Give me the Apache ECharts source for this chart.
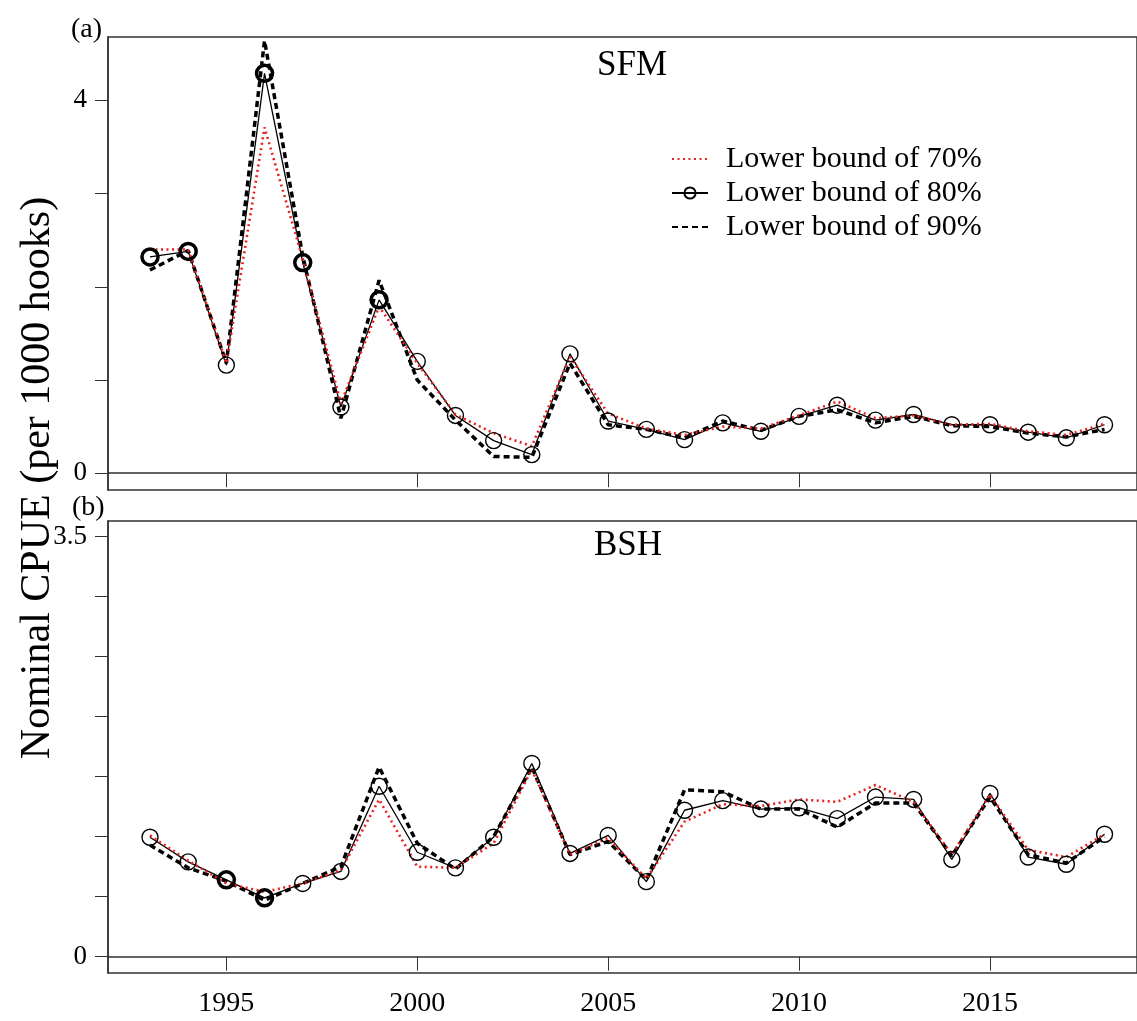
<!DOCTYPE html>
<html>
<head>
<meta charset="utf-8">
<script src="https://cdn.jsdelivr.net/npm/echarts@6/dist/echarts.min.js"></script>
<style>
  html, body { margin: 0; padding: 0; background: #fff; }
  #chart { width: 1137px; height: 1021px; }
</style>
</head>
<body>
<div id="chart"></div>
<script>
var years = [1993, 1994, 1995, 1996, 1997, 1998, 1999, 2000, 2001, 2002, 2003, 2004, 2005,
             2006, 2007, 2008, 2009, 2010, 2011, 2012, 2013, 2014, 2015, 2016, 2017, 2018];

// (a) SFM
var sfm70 = [2.40, 2.40, 1.18, 3.71, 2.30, 0.75, 1.79, 1.18, 0.63, 0.43, 0.29, 1.25, 0.64,
             0.48, 0.41, 0.50, 0.48, 0.62, 0.77, 0.59, 0.62, 0.52, 0.53, 0.45, 0.41, 0.53];
var sfm80 = [2.32, 2.38, 1.16, 4.29, 2.26, 0.71, 1.86, 1.20, 0.62, 0.35, 0.20, 1.28, 0.56,
             0.47, 0.36, 0.54, 0.45, 0.61, 0.73, 0.57, 0.63, 0.52, 0.52, 0.44, 0.38, 0.52];
var sfm90 = [2.18, 2.39, 1.18, 4.64, 2.33, 0.59, 2.07, 1.00, 0.57, 0.18, 0.17, 1.18, 0.52,
             0.47, 0.38, 0.56, 0.46, 0.61, 0.68, 0.54, 0.61, 0.51, 0.50, 0.43, 0.39, 0.47];

// (b) BSH
var bsh70 = [1.01, 0.80, 0.61, 0.54, 0.61, 0.72, 1.31, 0.75, 0.74, 0.945, 1.56, 0.85, 0.99,
             0.65, 1.125, 1.27, 1.255, 1.31, 1.29, 1.43, 1.29, 0.85, 1.35, 0.89, 0.83, 1.02];
var bsh80 = [0.995, 0.79, 0.64, 0.49, 0.61, 0.71, 1.42, 0.87, 0.74, 0.995, 1.61, 0.86, 1.01,
             0.625, 1.22, 1.30, 1.23, 1.24, 1.15, 1.33, 1.31, 0.81, 1.36, 0.83, 0.77, 1.02];
var bsh90 = [0.93, 0.74, 0.63, 0.47, 0.61, 0.75, 1.58, 0.945, 0.73, 1.00, 1.58, 0.85, 0.96,
             0.64, 1.39, 1.375, 1.23, 1.23, 1.08, 1.28, 1.28, 0.84, 1.33, 0.85, 0.78, 1.00];

// years whose circle is drawn heavier in the original
var boldTop = [1993, 1994, 1996, 1997, 1999];
var boldBottom = [1995, 1996];

var xTicks = [1995, 2000, 2005, 2010, 2015];
var topTicks = [0, 1, 2, 3, 4];
var topLabels = [0, 4];
var bottomTicks = [0, 0.5, 1, 1.5, 2, 2.5, 3, 3.5];
var bottomLabels = [0, 3.5];

var names = ['Lower bound of 70%', 'Lower bound of 80%', 'Lower bound of 90%'];
var serif = 'Liberation Serif';

function pairs(vals) {
	var out = [];
	for (var i = 0; i < years.length; i++) {
		out.push([years[i], vals[i]]);
	}
	return out;
}

function circles(vals, bold) {
	var out = [];
	for (var i = 0; i < years.length; i++) {
		var heavy = bold.indexOf(years[i]) >= 0;
		out.push({
			value: [years[i], vals[i]],
			itemStyle: { borderWidth: heavy ? 3.5 : 1.4 }
		});
	}
	return out;
}

function makeX(idx, showLabels) {
	return {
		type: 'value', gridIndex: idx, min: 1991.9, max: 2018.85,
		splitLine: { show: false },
		axisLine: { show: true, lineStyle: { color: '#333', width: 1.5 } },
		axisTick: { show: true, length: 14, customValues: xTicks, lineStyle: { color: '#333' } },
		axisLabel: {
			show: showLabels, customValues: xTicks, margin: 17,
			fontFamily: serif, fontSize: 28, color: '#000',
			formatter: function(v) { return String(v); }
		}
	};
}

function makeY(idx, min, max, ticks, labels) {
	return {
		type: 'value', gridIndex: idx, min: min, max: max,
		splitLine: { show: false },
		axisLine: { show: true, lineStyle: { color: '#333', width: 1.5 } },
		axisTick: { show: true, length: 13, customValues: ticks, lineStyle: { color: '#333' } },
		axisLabel: {
			customValues: labels, margin: 21,
			fontFamily: serif, fontSize: 27, color: '#000'
		}
	};
}

function makeSeries(idx, v70, v80, v90, bold) {
	return [{
		name: names[2], type: 'line', xAxisIndex: idx, yAxisIndex: idx,
		data: pairs(v90), symbol: 'none', silent: true,
		itemStyle: { color: '#000' },
		lineStyle: { color: '#000', width: 3.5, type: [6, 4] }
	}, {
		name: names[1], type: 'line', xAxisIndex: idx, yAxisIndex: idx,
		data: circles(v80, bold), symbol: 'circle', symbolSize: 16, silent: true,
		itemStyle: { color: 'rgba(255,255,255,0)', borderColor: '#000', borderWidth: 1.4 },
		lineStyle: { color: '#000', width: 1.3 }
	}, {
		name: names[0], type: 'line', xAxisIndex: idx, yAxisIndex: idx,
		data: pairs(v70), symbol: 'none', silent: true,
		itemStyle: { color: '#e8201f' },
		lineStyle: { color: '#e8201f', width: 2.6, type: [2, 3.5] }
	}];
}

var chart = echarts.init(document.getElementById('chart'));

var option = {
	animation: false,
	backgroundColor: '#fff',
	grid: [
		{ left: 108, top: 37, width: 1045, height: 453, show: true, borderColor: '#333', borderWidth: 1.5 },
		{ left: 108, top: 521, width: 1045, height: 452, show: true, borderColor: '#333', borderWidth: 1.5 }
	],
	xAxis: [makeX(0, false), makeX(1, true)],
	yAxis: [
		makeY(0, -0.18, 4.68, topTicks, topLabels),
		makeY(1, -0.136, 3.63, bottomTicks, bottomLabels)
	],
	legend: {
		data: [
			{ name: names[0], itemStyle: { opacity: 0 } },
			names[1],
			{ name: names[2], itemStyle: { opacity: 0 } }
		],
		orient: 'vertical', left: 666, top: 139,
		itemWidth: 36, itemHeight: 14, itemGap: 4,
		textStyle: { fontFamily: serif, fontSize: 30, color: '#000', padding: [0, 0, 0, 13] }
	},
	graphic: [
		{ type: 'text', x: 632, y: 66, style: { text: 'SFM', font: '35px "Liberation Serif"', fill: '#000', align: 'center', verticalAlign: 'middle' } },
		{ type: 'text', x: 628, y: 546, style: { text: 'BSH', font: '35px "Liberation Serif"', fill: '#000', align: 'center', verticalAlign: 'middle' } },
		{ type: 'text', left: 71, top: 16, style: { text: '(a)', font: '28px "Liberation Serif"', fill: '#000' } },
		{ type: 'text', left: 72, top: 494, style: { text: '(b)', font: '28px "Liberation Serif"', fill: '#000' } },
		{
			type: 'text', x: 38, y: 478, rotation: Math.PI / 2,
			style: {
				text: 'Nominal CPUE (per 1000 hooks)', font: '42px "Liberation Serif"',
				fill: '#000', align: 'center', verticalAlign: 'middle'
			}
		}
	],
	series: makeSeries(0, sfm70, sfm80, sfm90, boldTop).concat(makeSeries(1, bsh70, bsh80, bsh90, boldBottom))
};
chart.setOption(option);
</script>
</body>
</html>
